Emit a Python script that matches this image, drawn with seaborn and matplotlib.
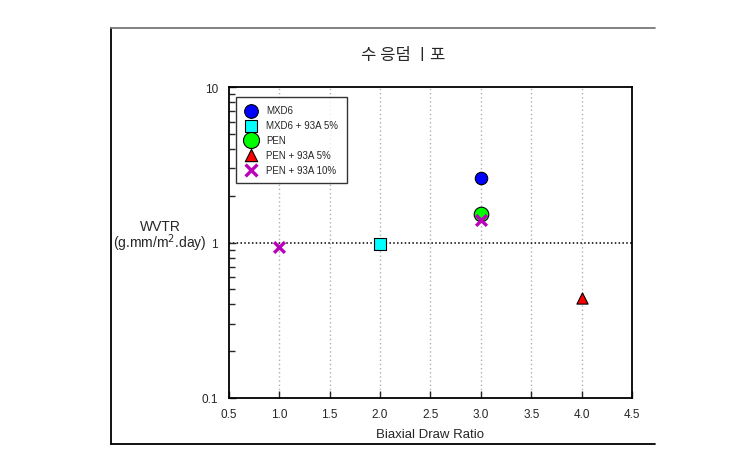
import matplotlib
matplotlib.use("Agg")
import matplotlib.pyplot as plt
from matplotlib.lines import Line2D
import seaborn as sns
import pandas as pd

sns.set_theme(style="white")
plt.rcParams['font.family'] = ['Liberation Sans', 'Noto Sans CJK KR', 'DejaVu Sans']

series = ["MXD6", "MXD6 + 93A 5%", "PEN", "PEN + 93A 5%", "PEN + 93A 10%"]
x_mxd6 = [3.0]
y_mxd6 = [2.6]
x_mxd6_93a = [2.0]
y_mxd6_93a = [0.98]
x_pen = [3.0]
y_pen = [1.52]
x_pen_93a5 = [4.0]
y_pen_93a5 = [0.44]
x_pen_93a10 = [1.0, 3.0]
y_pen_93a10 = [0.94, 1.40]

xs = [x_mxd6, x_mxd6_93a, x_pen, x_pen_93a5, x_pen_93a10]
ys = [y_mxd6, y_mxd6_93a, y_pen, y_pen_93a5, y_pen_93a10]
colors = ["#0000ff", "#00ffff", "#00ff00", "#ff0000", "#bb00bb"]
markers = ["o", "s", "o", "^", "x"]
sizes = [80, 65, 110, 65, 60]

x_ticks = [0.5, 1.0, 1.5, 2.0, 2.5, 3.0, 3.5, 4.0, 4.5]
title = "수 응덤 ㅣ포"

fig = plt.figure(figsize=(7.48, 4.56), dpi=100)
ax = fig.add_axes([0.3061, 0.125, 0.5388, 0.682])

for gx in x_ticks[1:-1]:
    ax.axvline(gx, color="#b0b0b0", linestyle=(0, (1, 2)), linewidth=1, zorder=0)
ax.axhline(1.0, color="black", linestyle=(0, (1, 1.5)), linewidth=1.1, zorder=0)

for name, xv, yv, c, m, s in zip(series, xs, ys, colors, markers, sizes):
    df = pd.DataFrame({"x": xv, "y": yv})
    if m == "x":
        sns.scatterplot(data=df, x="x", y="y", ax=ax, marker=m, color=c, s=s,
                        linewidth=2.4, label=name, zorder=5)
    else:
        sns.scatterplot(data=df, x="x", y="y", ax=ax, marker=m, color=c, s=s,
                        edgecolor="black", linewidth=0.8, label=name, zorder=4)

ax.set_yscale("log")
ax.set_xlim(0.5, 4.5)
ax.set_ylim(0.1, 10)
ax.set_xticks(x_ticks)
ax.set_xticklabels([f"{t:.1f}" for t in x_ticks], fontsize=8.5)
ax.set_yticks([0.1, 1, 10])
ax.set_yticklabels(["0.1", "1", "10"], fontsize=8.5)
ax.tick_params(axis="x", which="major", direction="in", length=5, width=1,
               bottom=True, top=False, pad=7)
ax.tick_params(axis="y", which="major", direction="in", length=5, width=1,
               left=True, right=False, pad=8)
ax.tick_params(axis="y", which="minor", direction="in", length=4, width=1, left=True, right=False)
for sp in ax.spines.values():
    sp.set_color("black")
    sp.set_linewidth(1.3)

ax.set_xlabel("Biaxial Draw Ratio", fontsize=9.5, labelpad=6)
ax.set_ylabel("")
fig.text(160 / 748, 1 - 237 / 456, "WVTR\n(g.mm/m$^2$.day)", ha="center", va="center",
         fontsize=10, linespacing=0.95)
fig.text(403 / 748, 1 - 56 / 456, title, ha="center", va="center", fontsize=12,
         family=['Noto Sans CJK KR', 'DejaVu Sans'])

leg = ax.legend(loc="upper left", bbox_to_anchor=(0.005, 0.985), fontsize=7,
                frameon=True, fancybox=False, edgecolor="black", handletextpad=0.9,
                borderpad=0.9, labelspacing=0.5, handlelength=1.3, markerscale=1.1)
leg.get_frame().set_linewidth(1.0)

# outer frame
fig.add_artist(Line2D([111 / 748, 111 / 748], [1 - 29 / 456, 1 - 445 / 456], color="black", linewidth=1.3, transform=fig.transFigure))
fig.add_artist(Line2D([111 / 748, 655 / 748], [1 - 29 / 456, 1 - 29 / 456], color="#777777", linewidth=1.3, transform=fig.transFigure))
fig.add_artist(Line2D([111 / 748, 655 / 748], [1 - 445 / 456, 1 - 445 / 456], color="black", linewidth=1.3, transform=fig.transFigure))

fig.savefig("out.png", dpi=100)
